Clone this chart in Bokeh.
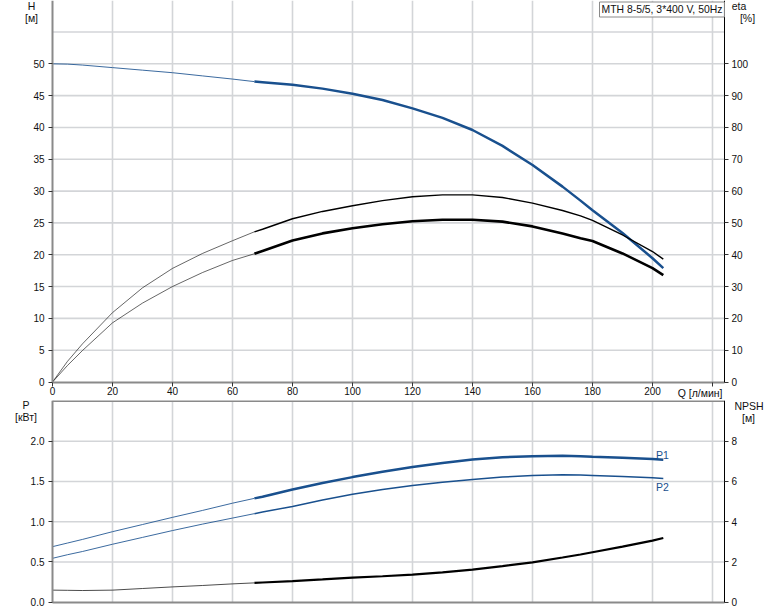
from bokeh.plotting import figure
from bokeh.models import Range1d, LinearAxis, FixedTicker, Label, PrintfTickFormatter
from bokeh.layouts import column
from bokeh.embed import file_html
from bokeh.resources import INLINE

# ---- data ----
q = [0, 5, 10, 20, 30, 40, 50, 60, 67.3, 70, 80, 90, 100, 110, 120, 130, 140, 150, 160, 170, 176, 180, 190, 200, 203.6]
head = [50.0, 49.95, 49.8, 49.4, 49.0, 48.6, 48.1, 47.6, 47.2, 47.1, 46.7, 46.1, 45.3, 44.3, 43.0, 41.5, 39.6, 37.1, 34.1, 30.7, 28.5, 27.0, 23.4, 19.45, 17.9]
eta_pump = [0, 6.5, 12.0, 21.8, 29.6, 35.7, 40.4, 44.4, 47.2, 48.0, 51.3, 53.6, 55.4, 57.0, 58.2, 58.8, 58.8, 58.0, 56.2, 53.9, 52.2, 50.8, 46.2, 41.0, 38.6]
eta_total = [0, 5.2, 9.9, 18.6, 24.8, 30.0, 34.4, 38.2, 40.3, 41.2, 44.5, 46.7, 48.3, 49.6, 50.5, 51.0, 51.0, 50.4, 48.9, 46.7, 45.2, 44.3, 40.4, 35.8, 33.6]
p1 = [0.69, 0.735, 0.78, 0.876, 0.965, 1.054, 1.14, 1.23, 1.29, 1.31, 1.40, 1.48, 1.554, 1.62, 1.68, 1.73, 1.773, 1.80, 1.814, 1.818, 1.813, 1.806, 1.795, 1.78, 1.769]
p2 = [0.545, 0.59, 0.63, 0.72, 0.805, 0.89, 0.97, 1.045, 1.10, 1.12, 1.19, 1.27, 1.34, 1.40, 1.45, 1.49, 1.525, 1.555, 1.574, 1.583, 1.579, 1.574, 1.56, 1.545, 1.537]
npsh = [0.60, 0.59, 0.58, 0.60, 0.68, 0.76, 0.83, 0.91, 0.96, 0.98, 1.05, 1.13, 1.22, 1.29, 1.37, 1.48, 1.62, 1.79, 1.98, 2.22, 2.37, 2.48, 2.76, 3.06, 3.19]
q_duty_start = 67.3

q_ticks = [0, 20, 40, 60, 80, 100, 120, 140, 160, 180, 200, 220]
h_ticks = [0, 5, 10, 15, 20, 25, 30, 35, 40, 45, 50]
h_grid = [5, 10, 15, 20, 25, 30, 35, 40, 45, 50, 55]
eta_ticks = [0, 10, 20, 30, 40, 50, 60, 70, 80, 90, 100]
p_ticks = [0.0, 0.5, 1.0, 1.5, 2.0]
npsh_ticks = [0, 2, 4, 6, 8]
legend_text = "MTH 8-5/5, 3*400 V, 50Hz"
q_title = "Q [л/мин]"

Q_MAX = 224.0
H_MAX = 60.0
P_MAX = 2.5

BLUE = "#19508e"
GRID = "#d3d5d8"
AXGRAY = "#8a8a8a"
FONT = "Liberation Sans"
TFS = "10px"
LFS = "10.5px"

i0 = q.index(q_duty_start)

# pixel geometry of the page (frame = whole canvas, axes at fixed locations)
W = 774
X0 = 52.0            # pixel of Q = 0
PX_Q = 3.0           # pixels per l/min
TOP_H = 400
H0_PX = 381.5        # pixel of H = 0
PX_H = 6.364
BOT_H = 211
P0_PX = 201.7        # pixel (inside lower canvas) of P = 0
PX_P = 80.5

x_rng = Range1d(-X0 / PX_Q, (W - X0) / PX_Q)


def style_axis(ax, line_color, line_width, ticks, tick_out=4, standoff=4):
    ax.ticker = FixedTicker(ticks=ticks)
    ax.axis_line_color = line_color
    ax.axis_line_width = line_width
    ax.major_tick_out = tick_out
    ax.major_tick_in = 0
    ax.minor_tick_out = 0
    ax.minor_tick_in = 0
    ax.major_tick_line_color = "#333333"
    ax.major_label_text_font = FONT
    ax.major_label_text_font_size = TFS
    ax.major_label_text_color = "#111111"
    ax.major_label_standoff = standoff


def text(p, x, y, t, align="center", color="#111111", size=LFS, **kw):
    p.add_layout(Label(x=x, y=y, text=t, text_font=FONT, text_font_size=size, text_color=color,
                       text_align=align, text_baseline="middle", **kw))


def bare_figure(height, y_rng):
    p = figure(width=W, height=height, x_range=x_rng, y_range=y_rng,
               x_axis_location=None, y_axis_location=None,
               output_backend="svg", toolbar_location=None,
               min_border=0, min_border_left=0, min_border_right=0, min_border_top=0, min_border_bottom=0)
    p.xgrid.visible = False
    p.ygrid.visible = False
    p.outline_line_color = None
    p.background_fill_color = "white"
    p.border_fill_color = "white"
    return p


# ---------------- top chart: H and eta ----------------
h_lo = -(TOP_H - H0_PX) / PX_H
h_hi = H0_PX / PX_H
top = bare_figure(TOP_H, Range1d(h_lo, h_hi))
top.extra_y_ranges = {"eta": Range1d(2 * h_lo, 2 * h_hi)}

# grid
top.segment(x0=q_ticks[1:], y0=[0] * (len(q_ticks) - 1), x1=q_ticks[1:], y1=[h_hi] * (len(q_ticks) - 1),
            line_color=GRID, line_width=1.6, level="underlay")
top.segment(x0=[0] * len(h_grid), y0=h_grid, x1=[Q_MAX] * len(h_grid), y1=h_grid,
            line_color=GRID, line_width=1.6, level="underlay")

h_axis = LinearAxis(fixed_location=0, bounds=(0, h_hi))
style_axis(h_axis, AXGRAY, 2, h_ticks)
top.add_layout(h_axis, "left")
q_axis = LinearAxis(fixed_location=0, bounds=(0, Q_MAX))
style_axis(q_axis, AXGRAY, 2, q_ticks, tick_out=4, standoff=1)
q_axis.major_label_overrides = {220: ""}
top.add_layout(q_axis, "below")
eta_axis = LinearAxis(y_range_name="eta", fixed_location=Q_MAX, bounds=(0, 2 * h_hi))
style_axis(eta_axis, "black", 1, eta_ticks, tick_out=4, standoff=3)
top.add_layout(eta_axis, "right")

# head
top.line(q[:i0 + 1], head[:i0 + 1], line_color=BLUE, line_width=1, line_alpha=0.85)
top.line(q[i0:], head[i0:], line_color=BLUE, line_width=2.5)
# efficiencies
top.line(q[:i0 + 1], eta_pump[:i0 + 1], line_color="black", line_width=1, line_alpha=0.6, y_range_name="eta")
top.line(q[i0:], eta_pump[i0:], line_color="black", line_width=1.4, y_range_name="eta")
top.line(q[:i0 + 1], eta_total[:i0 + 1], line_color="black", line_width=1, line_alpha=0.6, y_range_name="eta")
top.line(q[i0:], eta_total[i0:], line_color="black", line_width=2.6, y_range_name="eta")

def hy(px):
    return (H0_PX - px) / PX_H

def qx(px):
    return (px - X0) / PX_Q

text(top, qx(31), hy(5), "H")
text(top, qx(31), hy(17), "[м]")
text(top, qx(738.5), hy(5), "eta")
text(top, qx(747), hy(17), "[%]")
text(top, qx(722), hy(392), q_title, align="right")
top.add_layout(Label(x=qx(599), y=hy(1.5), text=legend_text, text_font=FONT, text_font_size="10.4px",
                     text_color="#111111", text_align="left", text_baseline="top",
                     background_fill_color="white", border_line_color="#8a8a8a", border_line_width=1,
                     padding=2))

# ---------------- bottom chart: P and NPSH ----------------
p_lo = -(BOT_H - P0_PX) / PX_P
p_hi = P0_PX / PX_P
bot = bare_figure(BOT_H, Range1d(p_lo, p_hi))
bot.extra_y_ranges = {"npsh": Range1d(4 * p_lo, 4 * p_hi)}

bot.segment(x0=q_ticks[1:], y0=[0] * (len(q_ticks) - 1), x1=q_ticks[1:], y1=[P_MAX] * (len(q_ticks) - 1),
            line_color=GRID, line_width=1.6, level="underlay")
bot.segment(x0=[0] * (len(p_ticks) - 1), y0=p_ticks[1:], x1=[Q_MAX] * (len(p_ticks) - 1), y1=p_ticks[1:],
            line_color=GRID, line_width=1.6, level="underlay")
# top border of the lower chart
bot.segment(x0=[0], y0=[P_MAX], x1=[Q_MAX], y1=[P_MAX], line_color=AXGRAY, line_width=2)

p_axis = LinearAxis(fixed_location=0, bounds=(0, P_MAX))
style_axis(p_axis, AXGRAY, 2, p_ticks)
p_axis.formatter = PrintfTickFormatter(format="%.1f")
bot.add_layout(p_axis, "left")
q2_axis = LinearAxis(fixed_location=0, bounds=(0, Q_MAX))
style_axis(q2_axis, AXGRAY, 2, [], tick_out=0, standoff=0)
bot.add_layout(q2_axis, "below")
npsh_axis = LinearAxis(y_range_name="npsh", fixed_location=Q_MAX, bounds=(0, 4 * P_MAX))
style_axis(npsh_axis, "black", 1, npsh_ticks, tick_out=4, standoff=3)
bot.add_layout(npsh_axis, "right")

bot.line(q[:i0 + 1], p1[:i0 + 1], line_color=BLUE, line_width=1, line_alpha=0.85)
bot.line(q[i0:], p1[i0:], line_color=BLUE, line_width=2.5)
bot.line(q[:i0 + 1], p2[:i0 + 1], line_color=BLUE, line_width=1, line_alpha=0.85)
bot.line(q[i0:], p2[i0:], line_color=BLUE, line_width=1.5)
bot.line(q[:i0 + 1], npsh[:i0 + 1], line_color="black", line_width=1, line_alpha=0.7, y_range_name="npsh")
bot.line(q[i0:], npsh[i0:], line_color="black", line_width=2.2, y_range_name="npsh")

def py(px):
    return (P0_PX - (px - TOP_H)) / PX_P

text(bot, qx(662), py(454), "P1", color=BLUE)
text(bot, qx(662), py(486), "P2", color=BLUE)
text(bot, qx(25.5), py(404.5), "P")
text(bot, qx(25.5), py(416.5), "[кВт]")
text(bot, qx(748.5), py(405), "NPSH")
text(bot, qx(748), py(417), "[м]")

layout = column(top, bot, spacing=0)
open("out.html", "w").write(file_html(layout, INLINE))
